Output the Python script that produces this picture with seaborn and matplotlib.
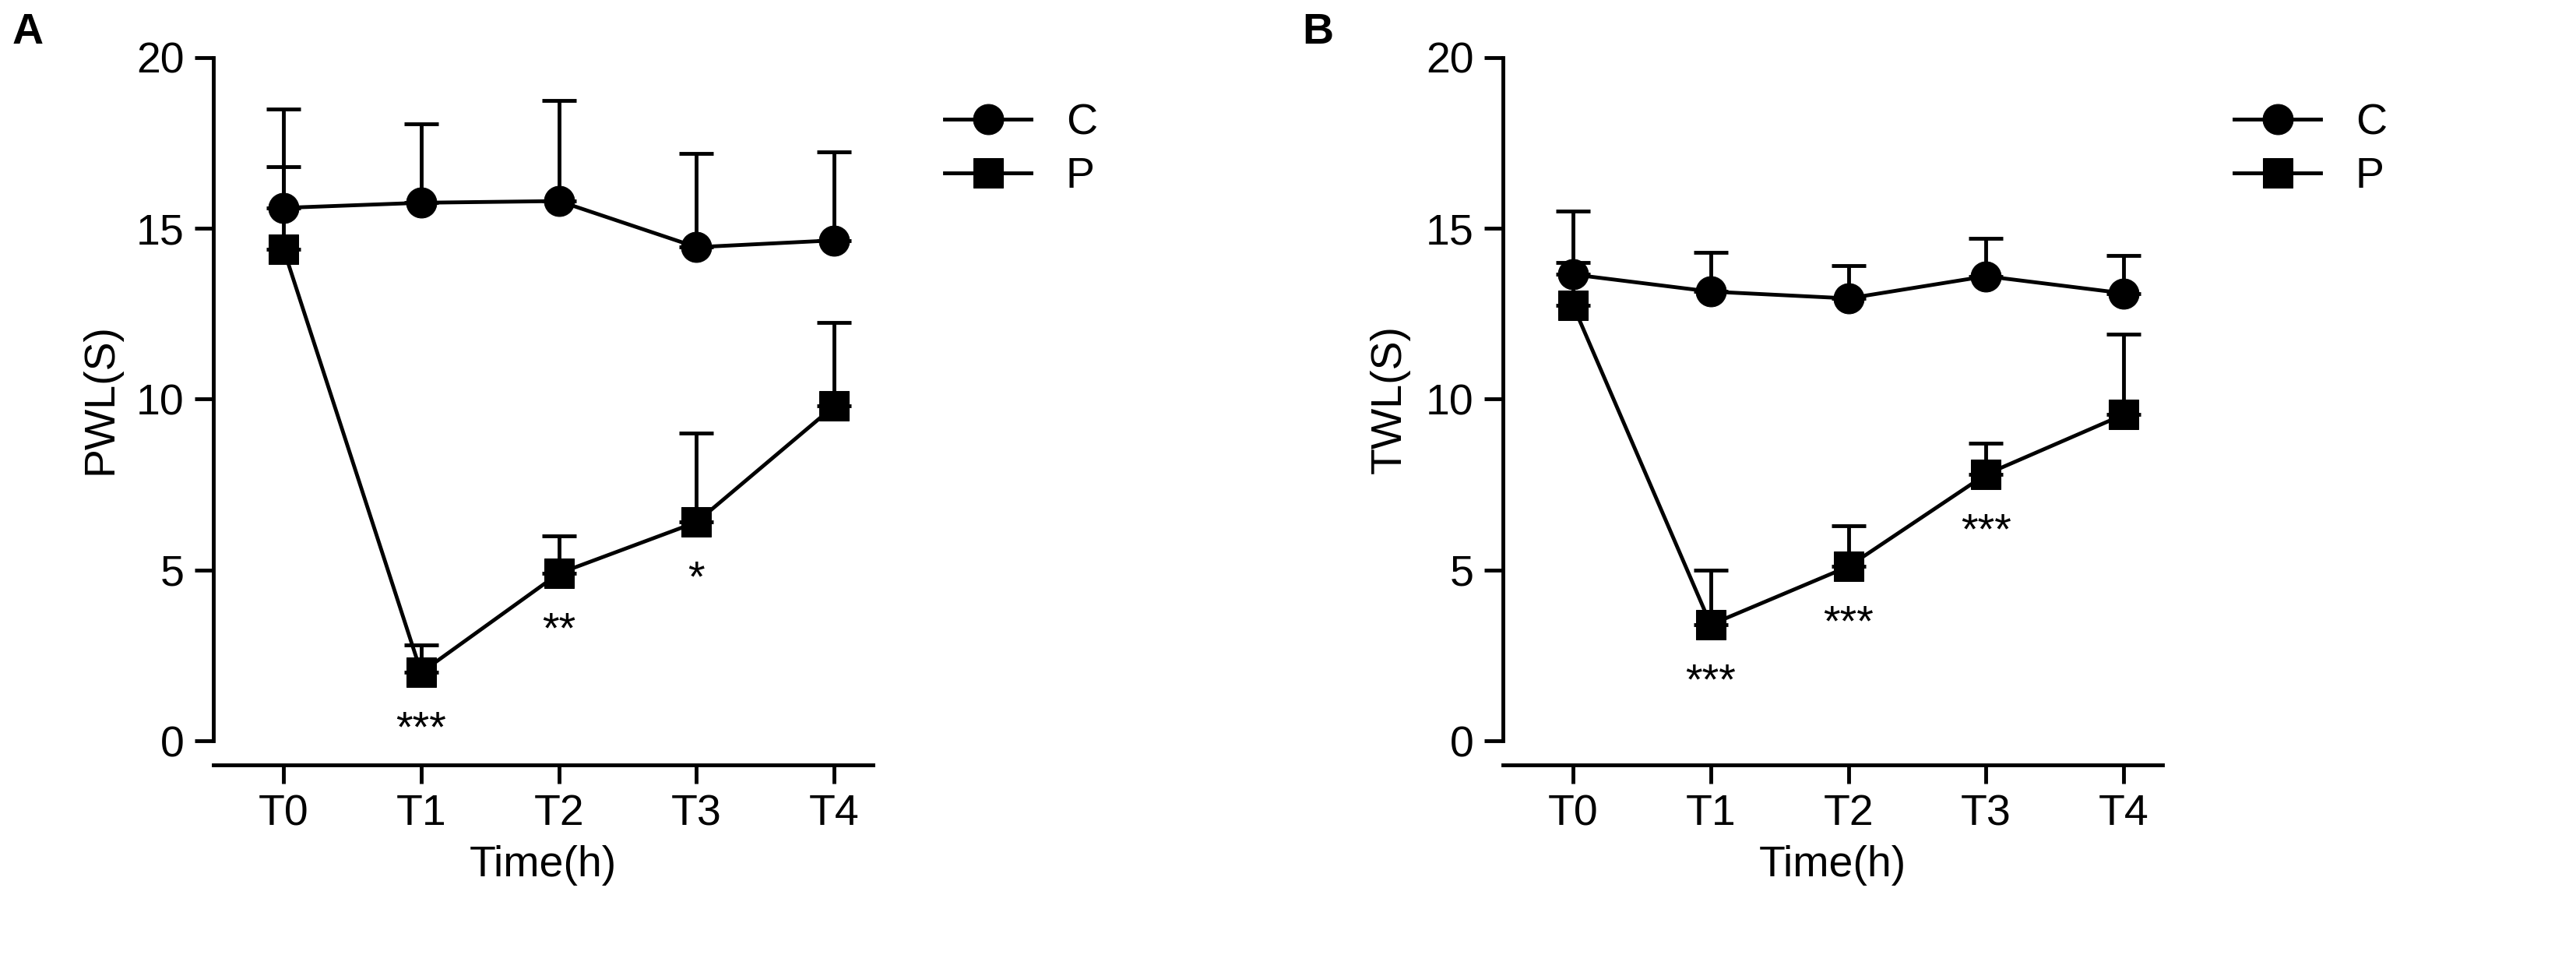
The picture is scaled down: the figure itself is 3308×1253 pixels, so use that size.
import matplotlib
matplotlib.use("Agg")
import matplotlib.pyplot as plt
import seaborn as sns
import pandas as pd
import numpy as np

times = ["T0", "T1", "T2", "T3", "T4"]
a_c = [15.6, 15.75, 15.8, 14.45, 14.65]
a_c_err = [2.9, 2.3, 2.95, 2.75, 2.6]
a_p = [14.4, 2.0, 4.9, 6.4, 9.8]
a_p_err = [2.4, 0.8, 1.1, 2.6, 2.45]
a_stars = ["", "***", "**", "*", ""]
b_c = [13.65, 13.15, 12.95, 13.6, 13.1]
b_c_err = [1.85, 1.15, 0.95, 1.1, 1.1]
b_p = [12.75, 3.4, 5.1, 7.8, 9.55]
b_p_err = [1.25, 1.6, 1.2, 0.9, 2.35]
b_stars = ["", "***", "***", "***", ""]

plt.rcParams["font.family"] = "Liberation Sans"
FS = 40
LW = 3.5
fig = plt.figure(figsize=(33.08, 12.53), dpi=100)
axA = fig.add_axes([0.0828, 0.241, 0.256, 0.70])
axB = fig.add_axes([0.5834, 0.241, 0.256, 0.70])

def panel(ax, c, ce, p, pe, stars, ylabel, letter):
    x = np.arange(len(times))
    df = pd.DataFrame({"x": np.concatenate([x, x]), "y": c + p,
                       "g": ["C"] * 5 + ["P"] * 5})
    for vals, errs in [(c, ce), (p, pe)]:
        ax.errorbar(x, vals, yerr=[np.zeros(5), errs], fmt="none", ecolor="black",
                    elinewidth=LW, capsize=16, capthick=LW, zorder=1)
    sns.lineplot(data=df, x="x", y="y", hue="g", style="g",
                 markers={"C": "o", "P": "s"}, dashes=False,
                 palette={"C": "black", "P": "black"}, markersize=28,
                 linewidth=LW, markeredgecolor="black", ax=ax, zorder=3)
    for xi, (v, s) in enumerate(zip(p, stars)):
        if s:
            ax.text(xi, v - 1.1, s, ha="center", va="top", fontsize=FS)
    ax.set_xlim(-0.51, 4.28)
    ax.set_ylim(0, 20)
    ax.set_xticks(x)
    ax.set_xticklabels(times)
    ax.set_yticks([0, 5, 10, 15, 20])
    ax.tick_params(labelsize=FS, width=LW, length=17, pad=10)
    ax.set_xlabel("Time(h)", fontsize=FS, labelpad=10)
    ax.set_ylabel(ylabel, fontsize=FS, labelpad=14)
    for sp in ["top", "right"]:
        ax.spines[sp].set_visible(False)
    ax.spines["left"].set_linewidth(LW)
    ax.spines["bottom"].set_linewidth(LW)
    ax.spines["bottom"].set_position(("outward", 22))
    ax.spines["bottom"].set_bounds(-0.51, 4.28)
    h, l = ax.get_legend_handles_labels()
    ax.legend(h, l, loc="upper left", bbox_to_anchor=(1.05, 0.99), frameon=False,
              fontsize=FS, handlelength=2.0, labelspacing=0.3)
    fig.text(ax.get_position().x0 - 0.078, 0.955, letter, fontsize=FS, fontweight="bold")

panel(axA, a_c, a_c_err, a_p, a_p_err, a_stars, "PWL(S)", "A")
panel(axB, b_c, b_c_err, b_p, b_p_err, b_stars, "TWL(S)", "B")
fig.savefig("out.png", dpi=100)
